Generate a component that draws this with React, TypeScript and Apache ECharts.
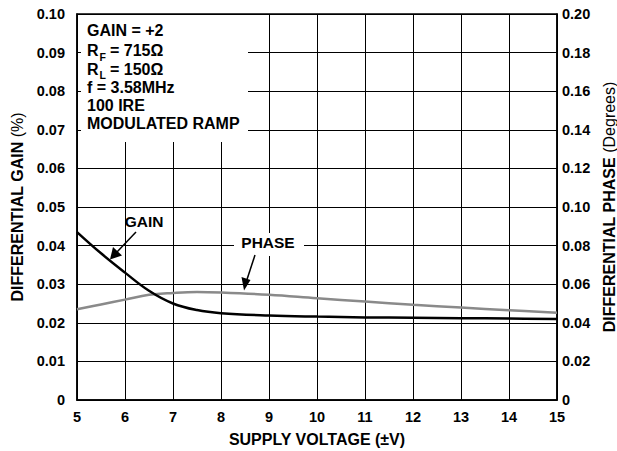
import React, { useEffect, useRef } from "react";
import * as echarts from "echarts";

const voltage = [5, 5.5, 6, 6.5, 7, 7.5, 8, 9, 10, 11, 12, 13, 14, 15];
const gainPct = [0.0435, 0.038, 0.033, 0.0283, 0.025, 0.0233, 0.0225, 0.0219, 0.0216, 0.0214, 0.0213, 0.0212, 0.0211, 0.021];
const phaseDeg = [0.047, 0.0495, 0.052, 0.0545, 0.0555, 0.056, 0.0557, 0.0545, 0.0527, 0.051, 0.0493, 0.0479, 0.0465, 0.0452];

const FONT = "'Liberation Sans', Arial, sans-serif";

export default function App() {
  const ref = useRef<HTMLDivElement>(null);
  useEffect(() => {
    if (!ref.current) return;
    const chart = echarts.init(ref.current, null, { renderer: "svg" });
    const fmt = (v: number) => (v === 0 ? "0" : v.toFixed(2));
    const txt = (x: number, y: number, text: string, size = 16, extra: any = {}) => ({
      type: "text",
      x,
      y,
      z: 100,
      style: {
        text,
        fill: "#000",
        font: `bold ${size}px ${FONT}`,
        verticalAlign: "middle",
        align: "left",
        ...extra,
      },
    });
    const nameStyle = {
      fontFamily: FONT,
      fontWeight: "bold",
      fontSize: 16,
      color: "#000",
      rich: { n: { fontFamily: FONT, fontWeight: "normal", fontSize: 16, color: "#000" } },
    };
    chart.setOption({
      animation: false,
      backgroundColor: "#fff",
      grid: {
        left: 77,
        right: 60,
        top: 14,
        bottom: 51,
        outerBoundsMode: "none",
        containLabel: false,
        show: true,
        borderColor: "#000",
        borderWidth: 1.5,
        backgroundColor: "transparent",
      },
      xAxis: {
        type: "value",
        min: 5,
        max: 15,
        interval: 1,
        name: "SUPPLY VOLTAGE (±V)",
        nameLocation: "middle",
        nameGap: 31,
        nameTextStyle: { fontFamily: FONT, fontWeight: "bold", fontSize: 16, color: "#000" },
        axisLine: { show: true, lineStyle: { color: "#000", width: 1.5 } },
        axisTick: { show: false },
        axisLabel: { color: "#000", fontFamily: FONT, fontWeight: "bold", fontSize: 14.5, margin: 9 },
        splitLine: { show: true, lineStyle: { color: "#000", width: 1 } },
      },
      yAxis: [
        {
          type: "value",
          min: 0,
          max: 0.1,
          interval: 0.01,
          name: "DIFFERENTIAL GAIN {n|(%)}",
          nameLocation: "middle",
          nameRotate: 90,
          nameGap: 49,
          nameTextStyle: nameStyle,
          axisLine: { show: true, lineStyle: { color: "#000", width: 1.5 } },
          axisTick: { show: false },
          axisLabel: { color: "#000", fontFamily: FONT, fontWeight: "bold", fontSize: 14.5, margin: 12, formatter: fmt },
          splitLine: { show: true, lineStyle: { color: "#000", width: 1 } },
        },
        {
          type: "value",
          min: 0,
          max: 0.2,
          interval: 0.02,
          position: "right",
          name: "DIFFERENTIAL PHASE {n|(Degrees)}",
          nameLocation: "middle",
          nameRotate: 90,
          nameGap: 43,
          nameTextStyle: nameStyle,
          axisLine: { show: true, lineStyle: { color: "#000", width: 1.5 } },
          axisTick: { show: false },
          axisLabel: { color: "#000", fontFamily: FONT, fontWeight: "bold", fontSize: 14.5, margin: 5, formatter: fmt },
          splitLine: { show: false },
        },
      ],
      series: [
        {
          name: "GAIN",
          type: "line",
          yAxisIndex: 0,
          data: voltage.map((v, i) => [v, gainPct[i]]),
          smooth: 0.4,
          symbol: "none",
          lineStyle: { color: "#000", width: 2.5 },
          z: 5,
        },
        {
          name: "PHASE",
          type: "line",
          yAxisIndex: 1,
          data: voltage.map((v, i) => [v, phaseDeg[i]]),
          smooth: 0.4,
          symbol: "none",
          lineStyle: { color: "#8a8a8a", width: 2.5 },
          z: 4,
        },
      ],
      graphic: [
        { type: "rect", z: 50, shape: { x: 81, y: 15, width: 167, height: 127 }, style: { fill: "#fff" } },
        txt(87, 30.5, "GAIN = +2"),
        txt(87, 50.5, "R"),
        txt(99.5, 57, "F", 10.5),
        txt(110, 50.5, "= 715Ω"),
        txt(87, 69, "R"),
        txt(99.5, 74.5, "L", 10.5),
        txt(110, 69, "= 150Ω"),
        txt(87, 87.5, "f = 3.58MHz"),
        txt(87, 105.5, "100 IRE"),
        txt(87, 123.5, "MODULATED RAMP"),
        // GAIN annotation
        txt(144, 221, "GAIN", 15.5, { align: "center" }),
        { type: "line", z: 100, shape: { x1: 136, y1: 232, x2: 117, y2: 252 }, style: { stroke: "#000", lineWidth: 1.5 } },
        { type: "polygon", z: 100, shape: { points: [[110, 259.5], [113, 247], [122, 255.5]] }, style: { fill: "#000" } },
        // PHASE annotation
        { type: "rect", z: 50, shape: { x: 234, y: 233, width: 70, height: 23 }, style: { fill: "#fff" } },
        txt(268, 242.5, "PHASE", 15.5, { align: "center" }),
        { type: "line", z: 100, shape: { x1: 255, y1: 255, x2: 246.5, y2: 281 }, style: { stroke: "#000", lineWidth: 1.5 } },
        { type: "polygon", z: 100, shape: { points: [[244, 290.5], [241.5, 277], [250.5, 280]] }, style: { fill: "#000" } },
      ],
    });
    return () => chart.dispose();
  }, []);
  return <div ref={ref} style={{ position: "fixed", left: 0, top: 0, width: 617, height: 451 }} />;
}
